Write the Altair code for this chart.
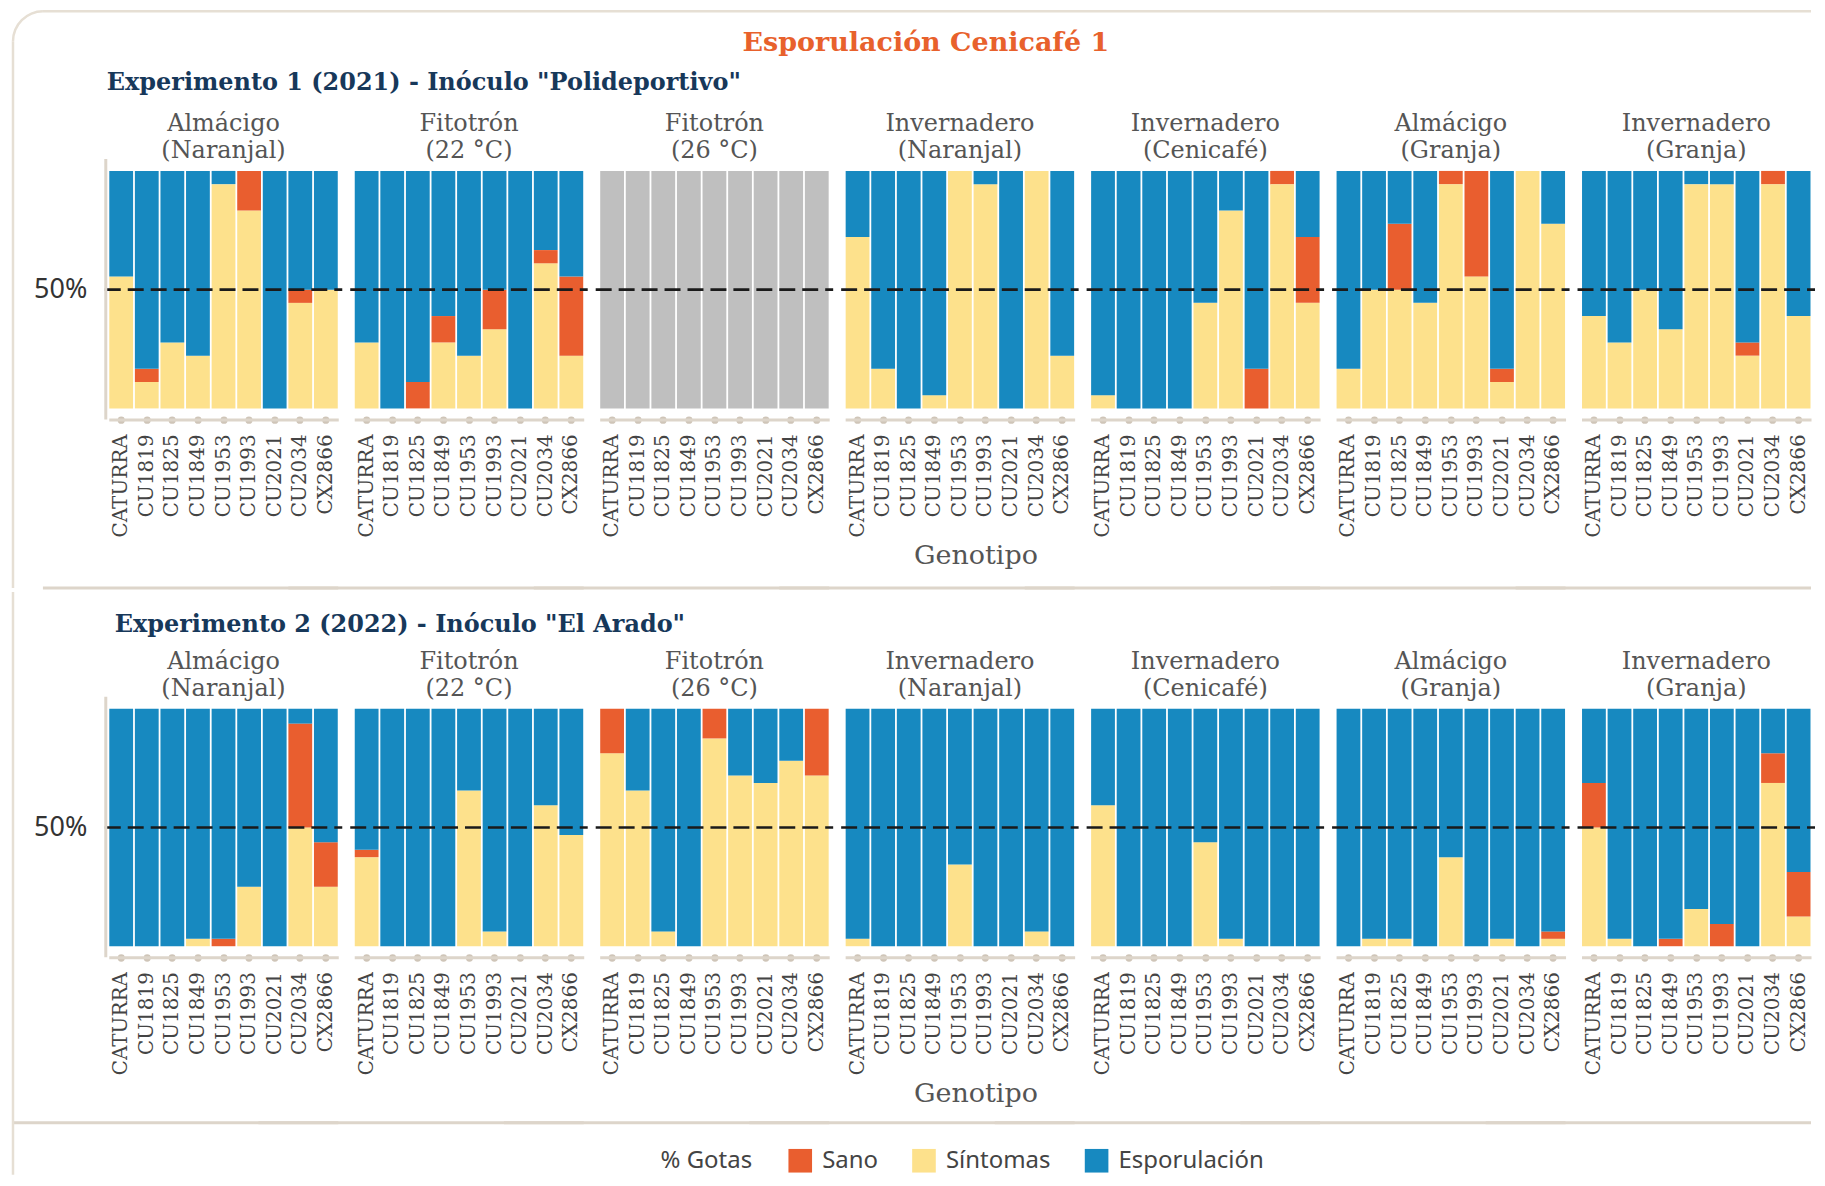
import altair as alt
import pandas as pd

genotipos = ["CATURRA", "CU1819", "CU1825", "CU1849", "CU1953", "CU1993", "CU2021", "CU2034", "CX2866"]
condiciones = ["Almácigo|(Naranjal)", "Fitotrón|(22 °C)", "Fitotrón|(26 °C)", "Invernadero|(Naranjal)",
               "Invernadero|(Cenicafé)", "Almácigo|(Granja)", "Invernadero|(Granja)"]
estados = ["Síntomas", "Sano", "Esporulación"]

# Experimento 1 (2021): gotas (de 18) por genotipo, en el orden de `genotipos`
e1_sintomas = {
    "Almácigo|(Naranjal)": [10, 2, 5, 4, 17, 15, 0, 8, 9],
    "Fitotrón|(22 °C)": [5, 0, 0, 5, 4, 6, 0, 11, 4],
    "Invernadero|(Naranjal)": [13, 3, 0, 1, 18, 17, 0, 18, 4],
    "Invernadero|(Cenicafé)": [1, 0, 0, 0, 8, 15, 0, 17, 8],
    "Almácigo|(Granja)": [3, 9, 9, 8, 17, 10, 2, 18, 14],
    "Invernadero|(Granja)": [7, 5, 9, 6, 17, 17, 4, 17, 7],
}
e1_sano = {
    "Almácigo|(Naranjal)": [0, 1, 0, 0, 0, 3, 0, 1, 0],
    "Fitotrón|(22 °C)": [0, 0, 2, 2, 0, 3, 0, 1, 6],
    "Invernadero|(Naranjal)": [0, 0, 0, 0, 0, 0, 0, 0, 0],
    "Invernadero|(Cenicafé)": [0, 0, 0, 0, 0, 0, 3, 1, 5],
    "Almácigo|(Granja)": [0, 0, 5, 0, 1, 8, 1, 0, 0],
    "Invernadero|(Granja)": [0, 0, 0, 0, 0, 0, 1, 1, 0],
}
e1_esporulacion = {
    "Almácigo|(Naranjal)": [8, 15, 13, 14, 1, 0, 18, 9, 9],
    "Fitotrón|(22 °C)": [13, 18, 16, 11, 14, 9, 18, 6, 8],
    "Invernadero|(Naranjal)": [5, 15, 18, 17, 0, 1, 18, 0, 14],
    "Invernadero|(Cenicafé)": [17, 18, 18, 18, 10, 3, 15, 0, 5],
    "Almácigo|(Granja)": [15, 9, 4, 10, 0, 0, 15, 0, 4],
    "Invernadero|(Granja)": [11, 13, 9, 12, 1, 1, 13, 0, 11],
}
e1_sin_datos = ["Fitotrón|(26 °C)"]

# Experimento 2 (2022): gotas (de 32) por genotipo
e2_sintomas = {
    "Almácigo|(Naranjal)": [0, 0, 0, 1, 0, 8, 0, 16, 8],
    "Fitotrón|(22 °C)": [12, 0, 0, 0, 21, 2, 0, 19, 15],
    "Fitotrón|(26 °C)": [26, 21, 2, 0, 28, 23, 22, 25, 23],
    "Invernadero|(Naranjal)": [1, 0, 0, 0, 11, 0, 0, 2, 0],
    "Invernadero|(Cenicafé)": [19, 0, 0, 0, 14, 1, 0, 0, 0],
    "Almácigo|(Granja)": [0, 1, 1, 0, 12, 0, 1, 0, 1],
    "Invernadero|(Granja)": [16, 1, 0, 0, 5, 0, 0, 22, 4],
}
e2_sano = {
    "Almácigo|(Naranjal)": [0, 0, 0, 0, 1, 0, 0, 14, 6],
    "Fitotrón|(22 °C)": [1, 0, 0, 0, 0, 0, 0, 0, 0],
    "Fitotrón|(26 °C)": [6, 0, 0, 0, 4, 0, 0, 0, 9],
    "Invernadero|(Naranjal)": [0, 0, 0, 0, 0, 0, 0, 0, 0],
    "Invernadero|(Cenicafé)": [0, 0, 0, 0, 0, 0, 0, 0, 0],
    "Almácigo|(Granja)": [0, 0, 0, 0, 0, 0, 0, 0, 1],
    "Invernadero|(Granja)": [6, 0, 0, 1, 0, 3, 0, 4, 6],
}
e2_esporulacion = {
    "Almácigo|(Naranjal)": [32, 32, 32, 31, 31, 24, 32, 2, 18],
    "Fitotrón|(22 °C)": [19, 32, 32, 32, 11, 30, 32, 13, 17],
    "Fitotrón|(26 °C)": [0, 11, 30, 32, 0, 9, 10, 7, 0],
    "Invernadero|(Naranjal)": [31, 32, 32, 32, 21, 32, 32, 30, 32],
    "Invernadero|(Cenicafé)": [13, 32, 32, 32, 18, 31, 32, 32, 32],
    "Almácigo|(Granja)": [32, 31, 31, 32, 20, 32, 31, 32, 30],
    "Invernadero|(Granja)": [10, 31, 32, 31, 27, 29, 32, 6, 22],
}

titulo = "Esporulación Cenicafé 1"
titulo_e1 = 'Experimento 1 (2021) - Inóculo "Polideportivo"'
titulo_e2 = 'Experimento 2 (2022) - Inóculo "El Arado"'

COL_SANO, COL_SINT, COL_ESP, COL_ND = "#E95E2F", "#FDE18C", "#1789C0", "#BFBFBF"
BEIGE = "#DDD5CA"
FRAME = "#E6DFD4"


def build_df(sint, sano, esp, sin_datos=()):
    rows = []
    for c in condiciones:
        for i, g in enumerate(genotipos):
            if c in sin_datos:
                rows.append(dict(Condicion=c, Genotipo=g, Estado="Sin datos", n=1, orden=0))
                continue
            for k, (est, src) in enumerate(zip(estados, [sint, sano, esp])):
                rows.append(dict(Condicion=c, Genotipo=g, Estado=est, n=src[c][i], orden=k))
    return pd.DataFrame(rows)


df1 = build_df(e1_sintomas, e1_sano, e1_esporulacion, e1_sin_datos)
df2 = build_df(e2_sintomas, e2_sano, e2_esporulacion)

W, H = 230, 238

color = alt.Color(
    "Estado:N",
    scale=alt.Scale(domain=["Sano", "Síntomas", "Esporulación", "Sin datos"],
                    range=[COL_SANO, COL_SINT, COL_ESP, COL_ND]),
    legend=alt.Legend(values=["Sano", "Síntomas", "Esporulación"], title="% Gotas",
                      orient="none", direction="horizontal", legendX=553, legendY=980),
)
y_axis = alt.Axis(values=[0.5], format=".0%", title=None, domain=False)


def experimento(df, title_text, title_offset, dx, sep_y, sep_x, frame_parts):
    bars = alt.Chart().mark_bar().encode(
        x=alt.X("Genotipo:N", sort=genotipos,
                scale=alt.Scale(paddingInner=0.07, paddingOuter=0.02),
                axis=alt.Axis(title=None)),
        y=alt.Y("n:Q", stack="normalize", scale=alt.Scale(domain=[0, 1]), axis=y_axis),
        color=color,
        order=alt.Order("orden:Q"),
    )
    agg = alt.Chart().transform_aggregate(k="count()", groupby=["Condicion"]).transform_calculate(mitad="0.5")
    rule50 = agg.mark_rule(color="#1a1a1a", strokeDash=[16, 7], strokeWidth=2.6).encode(
        y=alt.Y("mitad:Q", axis=y_axis), x=alt.value(-4), x2=alt.value(W + 4)
    )
    sep = agg.mark_rule(color=BEIGE, strokeWidth=3).encode(
        y=alt.value(sep_y), x=alt.value(sep_x), x2=alt.value(W)
    )
    first = agg.transform_filter(alt.datum.Condicion == condiciones[0])
    yline = first.mark_rule(color=BEIGE, strokeWidth=3).encode(
        x=alt.value(-3), y=alt.value(-12), y2=alt.value(H + 11)
    )
    layers = [bars, rule50, sep, yline]
    for kind, a, b, c in frame_parts:
        if kind == "v":
            layers.append(first.mark_rule(color=FRAME, strokeWidth=2.5).encode(
                x=alt.value(a), y=alt.value(b), y2=alt.value(c)))
        elif kind == "h":
            layers.append(first.mark_rule(color=FRAME, strokeWidth=2.5).encode(
                y=alt.value(a), x=alt.value(b), x2=alt.value(c)))
        else:
            layers.append(first.mark_arc(radius=31.25, radius2=28.75, theta=4.712389, theta2=6.283185,
                                         color=FRAME).encode(x=alt.value(a), y=alt.value(b)))
    layered = alt.layer(*layers, data=df).properties(width=W, height=H)
    return layered.facet(
        column=alt.Column("Condicion:N", sort=condiciones, title="Genotipo",
                          header=alt.Header(labelExpr="split(datum.value, '|')",
                                            labelOrient="top", titleOrient="bottom")),
        spacing=16,
        title=alt.TitleParams(title_text, anchor="start", frame="group", dx=dx, font="DejaVu Serif",
                              fontSize=24, fontWeight="bold", color="#17385A", offset=title_offset),
    ).properties(bounds="flush")


frame1 = [("h", -160, -66, 1706), ("arc", -66, -130, None), ("v", -96, -130, 418)]
frame2 = [("v", -96, -117, 467)]

chart = alt.vconcat(
    experimento(df1, titulo_e1, -85, -2, H + 180, -66, frame1),
    experimento(df2, titulo_e2, -46, 6, H + 177, -96, frame2),
    spacing=0,
    title=alt.TitleParams(titulo, anchor="middle", dx=12, font="DejaVu Serif", fontSize=27,
                          fontWeight="bold", color="#E8612C", offset=-47),
    padding={"left": 3, "top": 0, "right": 0, "bottom": 0},
).configure_view(
    strokeOpacity=0
).configure_axisX(
    domainColor=BEIGE, domainWidth=3, tickColor="#CFC5B8", tickWidth=7, tickSize=0.5, tickCap="round",
    labelAngle=270, labelFont="DejaVu Serif", labelFontSize=20, labelColor="#444", labelPadding=14,
    offset=11,
).configure_axisY(
    ticks=False, grid=False, labelFont="Noto Sans",
    labelFontSize=27, labelColor="#333", labelPadding=19, offset=3,
).configure_header(
    labelFont="DejaVu Serif", labelFontSize=24, labelColor="#555", labelLineHeight=27, labelPadding=8,
    titleFont="DejaVu Serif", titleFontSize=27, titleFontWeight="normal", titleColor="#555",
    titlePadding=-4, titleAlign="left",
).configure_legend(
    symbolType="square", symbolSize=560, titleOrient="left",
    symbolStrokeWidth=0, labelFont="Noto Sans", labelFontSize=24, labelColor="#444",
    titleFont="Noto Sans", titleFontSize=24, titleFontWeight="normal", titleColor="#444",
    titlePadding=36, columnPadding=34, labelOffset=10,
)

chart.save("out.html", embed_options={"renderer": "svg", "actions": False})
